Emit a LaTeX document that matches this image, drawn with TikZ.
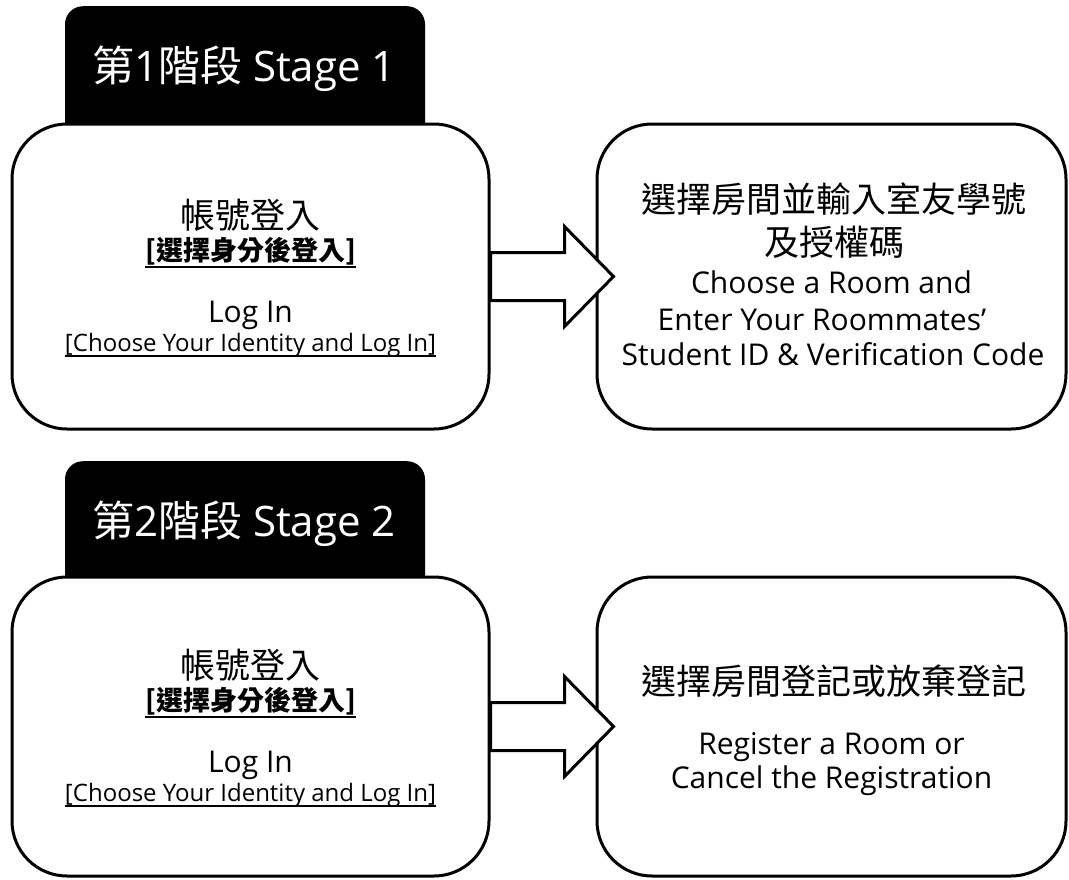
\documentclass[tikz,border=0pt]{standalone}
\usepackage{fontspec}
\setmainfont{Open Sans}
\newfontfamily\cjk{Noto Sans CJK TC}
\begin{document}
\begin{tikzpicture}[x=1pt,y=-1pt,
  box/.style={draw, line width=3pt, fill=white, rounded corners=55pt, inner sep=0pt},
  head/.style={fill=black, rounded corners=18pt, minimum width=360pt, minimum height=150pt, inner sep=0pt, anchor=north},
  headtext/.style={inner sep=0pt, anchor=base, text=white, font=\fontsize{42}{50}\selectfont},
  t/.style={inner sep=0pt, anchor=base},
  cjkbig/.style={font=\cjk\fontsize{35}{40}\selectfont},
  cjkul/.style={font=\cjk\bfseries\fontsize{27}{32}\selectfont},
  enbig/.style={font=\fontsize{30}{36}\selectfont},
  enul/.style={font=\fontsize{24}{28}\selectfont},
  ul/.style={line width=1.6pt},
  blockarrow/.style={draw, fill=white, line width=3pt, line join=miter}
]
\useasboundingbox (0,0) rectangle (1069,879);

% headers
\node[head] (H1) at (245,6) {};
\node[head] (H2) at (245,461) {};

% boxes
\node[box, minimum width=477pt, minimum height=305pt] (L1) at (250.5,276.5) {};
\node[box, minimum width=469pt, minimum height=305pt] (R1) at (831.5,276.5) {};
\node[box, minimum width=477pt, minimum height=299pt] (L2) at (250.5,726.5) {};
\node[box, minimum width=469pt, minimum height=299pt] (R2) at (831.5,726.5) {};

% block arrows
\draw[blockarrow, shift={(L1.east)}] (0,-24) -- (74,-24) -- (74,-50) -- (123,0) -- (74,50) -- (74,24) -- (0,24) -- cycle;
\draw[blockarrow, shift={(L2.east)}] (0,-24) -- (74,-24) -- (74,-50) -- (123,0) -- (74,50) -- (74,24) -- (0,24) -- cycle;

% header texts
\node[headtext] (H1t) at (244,81) {{\cjk 第}1{\cjk 階段} Stage 1};
\node[headtext] (H2t) at (244,536) {{\cjk 第}2{\cjk 階段} Stage 2};

% stage 1 left
\node[t, cjkbig] (L1a) at (250.5,228) {帳號登入};
\node[t, cjkul] (L1b) at (250.5,260) {[選擇身分後登入]};
\draw[ul] ([yshift=-7pt]L1b.base west) -- ([yshift=-7pt]L1b.base east);
\node[t, enbig] (L1c) at (250.5,322) {Log In};
\node[t, enul] (L1d) at (250.5,351) {[Choose Your Identity and Log In]};
\draw[ul] ([yshift=-5pt]L1d.base west) -- ([yshift=-5pt]L1d.base east);

% stage 1 right
\node[t, cjkbig] (R1a) at (834,212) {選擇房間並輸入室友學號};
\node[t, cjkbig] (R1b) at (834,255) {及授權碼};
\node[t, enbig] (R1c) at (831.5,293) {Choose a Room and};
\node[t, enbig] (R1d) at (822,330) {Enter Your Roommates’};
\node[t, enbig] (R1e) at (833,365) {Student ID \& Verification Code};

% stage 2 left
\node[t, cjkbig] (L2a) at (250.5,678) {帳號登入};
\node[t, cjkul] (L2b) at (250.5,710) {[選擇身分後登入]};
\draw[ul] ([yshift=-7pt]L2b.base west) -- ([yshift=-7pt]L2b.base east);
\node[t, enbig] (L2c) at (250.5,772) {Log In};
\node[t, enul] (L2d) at (250.5,801) {[Choose Your Identity and Log In]};
\draw[ul] ([yshift=-5pt]L2d.base west) -- ([yshift=-5pt]L2d.base east);

% stage 2 right
\node[t, cjkbig] (R2a) at (834,694) {選擇房間登記或放棄登記};
\node[t, enbig] (R2b) at (831.5,754) {Register a Room or};
\node[t, enbig] (R2c) at (831.5,788) {Cancel the Registration};
\end{tikzpicture}
\end{document}
